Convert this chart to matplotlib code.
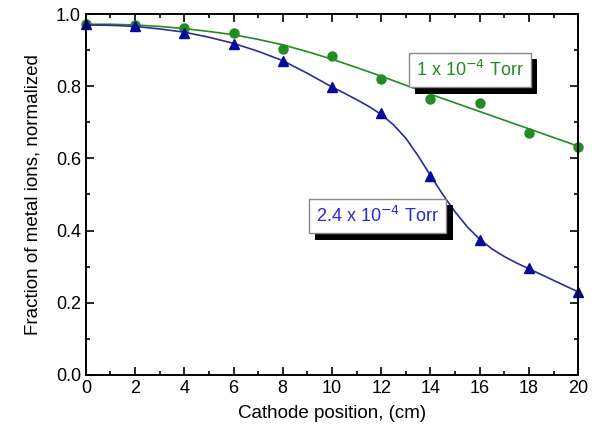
import matplotlib.pyplot as plt
import matplotlib.patheffects as pe
from matplotlib.ticker import MultipleLocator

plt.rcParams['font.family'] = ['Liberation Sans', 'DejaVu Sans']

# measured points
position = [0, 2, 4, 6, 8, 10, 12, 14, 16, 18, 20]
frac_low = [0.972, 0.970, 0.962, 0.949, 0.902, 0.885, 0.819, 0.764, 0.755, 0.670, 0.632]
frac_high = [0.972, 0.967, 0.949, 0.918, 0.870, 0.797, 0.727, 0.551, 0.374, 0.295, 0.229]

# fitted curves
fit_low_x = list(range(21))
fit_low = [0.972, 0.972, 0.970, 0.966, 0.960, 0.952, 0.943, 0.930, 0.915, 0.896, 0.875,
           0.852, 0.828, 0.803, 0.778, 0.754, 0.730, 0.706, 0.682, 0.658, 0.634]
fit_high_x = [0, 1, 2, 3, 4, 5, 6, 7, 8, 9, 10, 10.5, 11, 11.5, 12, 12.5, 13, 13.5, 14,
              14.5, 15, 15.5, 16, 16.5, 17, 17.5, 18, 18.5, 19, 19.5, 20]
fit_high = [0.970, 0.969, 0.966, 0.959, 0.950, 0.936, 0.919, 0.897, 0.871, 0.836, 0.798,
            0.781, 0.763, 0.744, 0.722, 0.693, 0.656, 0.607, 0.553, 0.500, 0.452, 0.410,
            0.376, 0.349, 0.328, 0.310, 0.294, 0.278, 0.262, 0.246, 0.230]

green = '#228b22'
navy = '#2b2b9c'

fig = plt.figure(figsize=(5.96, 4.42), dpi=100)
ax = fig.add_axes([0.144, 0.152, 0.826, 0.816])

ax.plot(fit_low_x, fit_low, color=green, lw=1.2)
ax.plot(position, frac_low, 'o', color=green, ms=6.5, clip_on=False)
ax.plot(fit_high_x, fit_high, color=navy, lw=1.2)
ax.plot(position, frac_high, '^', color='#0a0a9a', ms=7, clip_on=False)

ax.set_xlim(0, 20)
ax.set_ylim(0, 1.0)
ax.xaxis.set_major_locator(MultipleLocator(2))
ax.xaxis.set_minor_locator(MultipleLocator(1))
ax.yaxis.set_major_locator(MultipleLocator(0.2))
ax.yaxis.set_minor_locator(MultipleLocator(0.1))
ax.yaxis.set_major_formatter(plt.FormatStrFormatter('%.1f'))
ax.tick_params(which='both', direction='in', top=True, right=True, labelsize=13, width=1.2)
ax.tick_params(which='major', length=6)
ax.tick_params(which='minor', length=3)
for s in ax.spines.values():
    s.set_linewidth(1.4)

ax.set_xlabel('Cathode position, (cm)', fontsize=13.5, labelpad=6)
ax.set_ylabel('Fraction of metal ions, normalized', fontsize=13.5, labelpad=10)

# pressure labels: white box with a solid drop shadow
labels = [('1 x 10$^{-4}$ Torr', 15.6, 0.845, green),
          ('2.4 x 10$^{-4}$ Torr', 11.85, 0.44, '#2a2ad0')]
for txt, x, y, c in labels:
    t = ax.text(x, y, txt, ha='center', va='center', fontsize=13, color=c,
                bbox=dict(boxstyle='square,pad=0.4', fc='white', ec='#888888', lw=1))
    t.get_bbox_patch().set_path_effects([
        pe.SimplePatchShadow(offset=(4.5, -4.5), shadow_rgbFace='black', alpha=1.0),
        pe.Normal()])

fig.savefig('out.png', dpi=100)
